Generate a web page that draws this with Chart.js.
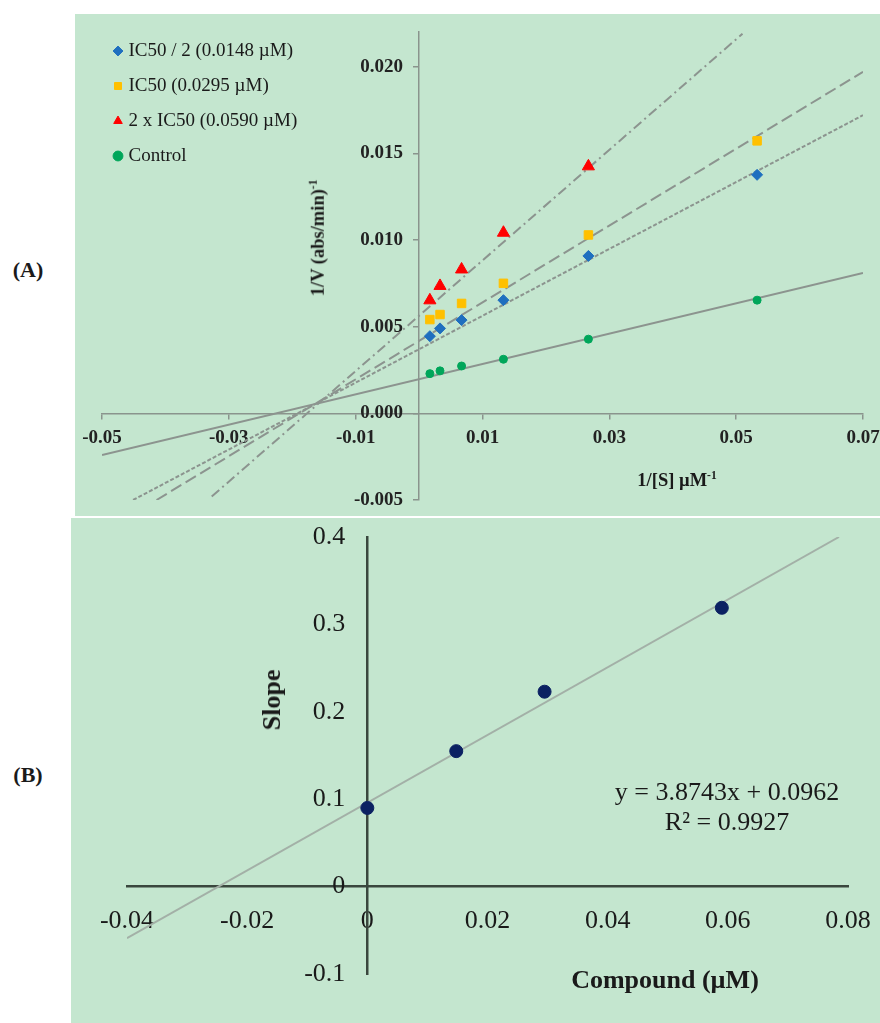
<!DOCTYPE html>
<html>
<head>
<meta charset="utf-8">
<script src="https://cdn.jsdelivr.net/npm/chart.js@4.4.1/dist/chart.umd.min.js"></script>
<style>
html,body{margin:0;padding:0;background:#fff;}
body{width:880px;height:1023px;position:relative;overflow:hidden;font-family:'Liberation Serif','Times New Roman',serif;color:#1a1a1a;}
.panel{position:absolute;background:#c4e6cf;}
#pa{left:75px;top:14px;width:805px;height:502px;}
#pb{left:71px;top:518px;width:809px;height:505px;}
canvas{display:block;}
.lbl{position:absolute;white-space:nowrap;line-height:1;transform:translate(-50%,-50%);}
.rot{transform:translate(-50%,-50%) rotate(-90deg);}
.lbl sup{font-size:62%;vertical-align:top;position:relative;top:-0.1em;}
</style>
</head>
<body>
<div class="panel" id="pa"><canvas id="ca" width="805" height="502"></canvas></div>
<div class="panel" id="pb"><canvas id="cb" width="809" height="505"></canvas></div>

<div class="lbl" style="left:28px;top:270px;font-weight:bold;font-size:22px;">(A)</div>
<div class="lbl" style="left:28px;top:775px;font-weight:bold;font-size:22px;">(B)</div>
<div class="lbl rot" style="left:318px;top:238px;font-weight:bold;font-size:18.5px;">1/V (abs/min)<sup>-1</sup></div>
<div class="lbl" style="left:677px;top:480px;font-weight:bold;font-size:18.5px;">1/[S] µM<sup>-1</sup></div>
<div class="lbl rot" style="left:272px;top:700px;font-weight:bold;font-size:26px;">Slope</div>
<div class="lbl" style="left:665px;top:980px;font-weight:bold;font-size:26px;">Compound (µM)</div>
<div class="lbl" style="left:727px;top:792px;font-size:26px;">y = 3.8743x + 0.0962</div>
<div class="lbl" style="left:727px;top:822px;font-size:26px;">R² = 0.9927</div>

<script>
// ---------- Panel A data (Lineweaver-Burk) ----------
const xA = [0.0017, 0.0033, 0.0067, 0.0133, 0.0267, 0.0533];
const halfY = [0.00445, 0.00490, 0.00538, 0.00653, 0.00908, 0.01376];
const ic50Y = [0.00541, 0.00570, 0.00634, 0.00750, 0.01029, 0.01572];
const doubleY = [0.00652, 0.00735, 0.00830, 0.01042, 0.01425];
const controlY = [0.00229, 0.00245, 0.00273, 0.00312, 0.00428, 0.00653];
const seriesNamesA = ['IC50 / 2 (0.0148 µM)', 'IC50 (0.0295 µM)', '2 x IC50 (0.0590 µM)', 'Control'];
// trendline end points
const fitHalfX = [-0.0451, 0.07];
const fitHalfY = [-0.0050, 0.0172];
const fitIc50X = [-0.0414, 0.07];
const fitIc50Y = [-0.0050, 0.0197];
const fitDoubleX = [-0.0327, 0.051];
const fitDoubleY = [-0.0048, 0.0219];
const fitControlX = [-0.05, 0.07];
const fitControlY = [-0.0024, 0.0081];
const xTicksA = [-0.05, -0.03, -0.01, 0.01, 0.03, 0.05, 0.07];
const xTickLabelsA = ['-0.05', '-0.03', '-0.01', '0.01', '0.03', '0.05', '0.07'];
const yTicksA = [-0.005, 0, 0.005, 0.010, 0.015, 0.020];
const yTickLabelsA = ['-0.005', '0.000', '0.005', '0.010', '0.015', '0.020'];

// ---------- Panel B data (secondary plot) ----------
const xB = [0, 0.0148, 0.0295, 0.0590];
const slopeB = [0.090, 0.155, 0.223, 0.319];
const fitBX = [-0.04, 0.0785];
const fitBY = [-0.059, 0.400];
const xTicksB = [-0.04, -0.02, 0, 0.02, 0.04, 0.06, 0.08];
const xTickLabelsB = ['-0.04', '-0.02', '0', '0.02', '0.04', '0.06', '0.08'];
const yTicksB = [-0.1, 0, 0.1, 0.2, 0.3, 0.4];
const yTickLabelsB = ['-0.1', '0', '0.1', '0.2', '0.3', '0.4'];

const SERIF = "'Liberation Serif', 'Times New Roman', serif";
const pts = (xs, ys) => ys.map((y, i) => ({x: xs[i], y: y}));
const noPad = (s) => { s.paddingLeft = 0; s.paddingRight = 0; s.paddingTop = 0; s.paddingBottom = 0; };

const AXIS_A = '#8a948d';
const LINE_A = '#8c948f';

function scatterSet(label, xs, ys, color, style, r) {
  return {label, data: pts(xs, ys), pointStyle: style, pointRadius: r, pointHoverRadius: r,
    pointBackgroundColor: color, pointBorderColor: color, pointBorderWidth: 1,
    backgroundColor: color, borderColor: color, showLine: false};
}
function fitSet(xs, ys, dash) {
  return {label: 'fit', data: pts(xs, ys), showLine: true, pointRadius: 0, borderColor: LINE_A,
    borderWidth: 2, borderDash: dash, fill: false, tension: 0};
}

// place the legend in the upper-left corner of the plot area
const legendPlace = {
  id: 'legendPlace',
  afterLayout(chart, args, opts) {
    const lg = chart.legend, ca = chart.chartArea;
    if (!lg) return;
    lg.left = ca.left + opts.dx;
    lg.top = ca.top + opts.dy;
    lg.right = ca.right;
    lg.bottom = ca.bottom;
  }
};
// keep a gap between the crossing y axis and its tick labels
const yLabelGap = {
  id: 'yLabelGap',
  afterLayout(chart, args, opts) {
    const s = chart.scales.y;
    const items = s.getLabelItems(chart.chartArea);
    items.forEach(it => { it.options.translation[0] -= opts.gap; });
  }
};

new Chart(document.getElementById('ca'), {
  type: 'scatter',
  data: {
    datasets: [
      scatterSet(seriesNamesA[0], xA, halfY, '#1f6fbf', 'rectRot', 5.5),
      scatterSet(seriesNamesA[1], xA, ic50Y, '#ffc000', 'rect', 6),
      scatterSet(seriesNamesA[2], xA, doubleY, '#ff0000', 'triangle', 7),
      scatterSet(seriesNamesA[3], xA, controlY, '#00a65a', 'circle', 4),
      fitSet(fitHalfX, fitHalfY, [4, 2]),
      fitSet(fitIc50X, fitIc50Y, [12, 5]),
      fitSet(fitDoubleX, fitDoubleY, [10, 4, 2, 4]),
      fitSet(fitControlX, fitControlY, [])
    ]
  },
  options: {
    responsive: false, animation: false, events: [],
    layout: {padding: {left: 27, right: 17, top: 18, bottom: 16}},
    plugins: {
      legend: {
        position: 'chartArea', align: 'start',
        labels: {usePointStyle: true, boxWidth: 2, boxHeight: 7, padding: 16, color: '#1a1a1a',
          font: {family: SERIF, size: 19}, filter: (it) => it.datasetIndex < 4}
      },
      tooltip: {enabled: false},
      legendPlace: {dx: -1, dy: -6.5},
      yLabelGap: {gap: 16}
    },
    scales: {
      x: {
        type: 'linear', position: {y: 0}, min: -0.05, max: 0.07,
        afterBuildTicks: (s) => { s.ticks = xTicksA.map(v => ({value: v})); },
        afterFit: noPad,
        grid: {drawOnChartArea: false, drawTicks: true, tickLength: 5, color: AXIS_A, lineWidth: 1.5},
        border: {display: true, color: AXIS_A, width: 1.5},
        ticks: {autoSkip: false, maxRotation: 0, padding: 8, color: '#222', font: {family: SERIF, size: 19, weight: 'bold'},
          callback: (v, i) => xTickLabelsA[i]}
      },
      y: {
        type: 'linear', position: {x: 0}, min: -0.005, max: 0.022,
        afterBuildTicks: (s) => { s.ticks = yTicksA.map(v => ({value: v})); },
        afterFit: noPad,
        grid: {drawOnChartArea: false, drawTicks: true, tickLength: 5, color: AXIS_A, lineWidth: 1.5},
        border: {display: true, color: AXIS_A, width: 1.5},
        ticks: {autoSkip: false, padding: 0, color: '#222', font: {family: SERIF, size: 19, weight: 'bold'},
          callback: (v, i) => yTickLabelsA[i]}
      }
    }
  },
  plugins: [legendPlace, yLabelGap]
});

const AXIS_B = '#3a473e';
new Chart(document.getElementById('cb'), {
  type: 'scatter',
  data: {
    datasets: [
      {label: 'Slope', data: pts(xB, slopeB), pointStyle: 'circle', pointRadius: 6.5,
        pointBackgroundColor: '#0b2162', pointBorderColor: '#0b2162', pointBorderWidth: 1, showLine: false},
      {label: 'Linear fit', data: pts(fitBX, fitBY), showLine: true, pointRadius: 0,
        borderColor: '#a3b0a7', borderWidth: 2, fill: false}
    ]
  },
  options: {
    responsive: false, animation: false, events: [],
    layout: {padding: {left: 56, right: 32, top: 19, bottom: 49}},
    plugins: {legend: {display: false}, tooltip: {enabled: false}, yLabelGap: {gap: 22}},
    scales: {
      x: {
        type: 'linear', position: {y: 0}, min: -0.04, max: 0.08,
        afterBuildTicks: (s) => { s.ticks = xTicksB.map(v => ({value: v})); },
        afterFit: noPad,
        grid: {display: false, drawTicks: false},
        border: {display: true, color: AXIS_B, width: 2.5},
        ticks: {autoSkip: false, maxRotation: 0, padding: 19, color: '#1a1a1a', font: {family: SERIF, size: 26},
          callback: (v, i) => xTickLabelsB[i]}
      },
      y: {
        type: 'linear', position: {x: 0}, min: -0.1, max: 0.4,
        afterBuildTicks: (s) => { s.ticks = yTicksB.map(v => ({value: v})); },
        afterFit: noPad,
        grid: {display: false, drawTicks: false},
        border: {display: true, color: AXIS_B, width: 2.5},
        ticks: {autoSkip: false, padding: 0, color: '#1a1a1a', font: {family: SERIF, size: 26},
          callback: (v, i) => yTickLabelsB[i]}
      }
    }
  },
  plugins: [yLabelGap]
});
</script>
</body>
</html>
